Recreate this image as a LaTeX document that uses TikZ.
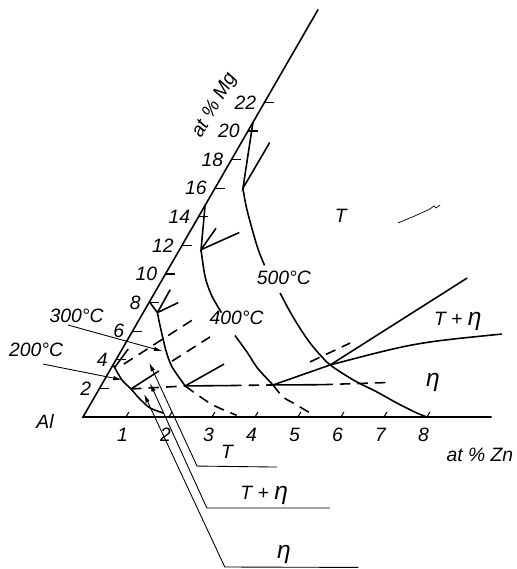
\documentclass[tikz,border=0pt]{standalone}
\usepackage{fontspec}
\setmainfont{Liberation Sans}
\usetikzlibrary{arrows.meta}
\newcommand{\etabig}{{\fontsize{14}{14}\selectfont η}}

\begin{document}
\begin{tikzpicture}[
	x={(0.86cm,0cm)}, y={(0.165cm,0.286cm)},
	curve/.style={ line width=0.9pt },
	dashcurve/.style={ line width=0.9pt, dash pattern=on 6pt off 4pt },
	axtick/.style={ line width=0.6pt },
	leader/.style={ line width=0.5pt, -{Latex[length=5pt,width=2.5pt]} },
	lbl/.style={ font=\itshape\fontsize{11}{13}\selectfont, inner sep=1pt }
]
\useasboundingbox (-1.66cm,-3.04cm) rectangle (8.66cm,8.34cm);

\draw[curve] (9.5,0) -- (0,0) -- (0,28.5);
\foreach \z in {1,...,8} {
  \draw[axtick] (\z,0) -- (\z,0.35);
  \node at (\z,0) (zn\z) [lbl,anchor=north,xshift=-2pt,yshift=-5pt] {\z};
}
\foreach \m in {2,4,...,22} {
  \draw[axtick] (0,\m) -- (0.23,\m);
  \node at (0,\m) (mg\m) [lbl,anchor=east,xshift=-3.5pt] {\m};
}
\node at (-0.83,-0.28) (al) [lbl] {Al};
\node at (9.74,-2.66) (znlab) [lbl] {at \% Zn};
\node at (-1.12,21.8) (mglab) [lbl,rotate=60] {at \% Mg};

\coordinate (p200) at (0.74,1.96);
\coordinate (p300) at (1.96,2.17);
\coordinate (p400) at (3.99,2.24);
\coordinate (j500) at (5.05,3.64);

\draw[curve] (0,20.6) -- (0.65,16.0) -- (0.66,19.2);
\draw[curve] plot[smooth] coordinates {(0.65,16.0) (1.03,14.5) (1.77,11.9) (2.19,10.6)};
\draw[curve] plot[smooth] coordinates {(2.92,8.67) (3.41,7.34) (3.85,6.22) (4.29,5.17) (4.75,4.2) (5.05,3.64) (5.43,3.08) (5.9,2.45) (6.5,1.75) (7.11,0.98) (7.71,0.28) (8,0)};
\node at (2.81,9.7) (t500) [lbl] {500°C};

\draw[curve] (0,14.8) -- (0.5,11.7) -- (0.56,13.2);
\draw[curve] (0.5,11.7) -- (1.16,12.9);
\draw[curve] plot[smooth] coordinates {(0.5,11.7) (0.96,9.8) (1.36,8.5) (1.82,7.3)};
\draw[curve] plot[smooth] coordinates {(2.44,5.7) (2.96,4.5) (3.41,3.4) (3.99,2.24)};
\node at (2.25,6.9) (t400) [lbl] {400°C};

\draw[curve] (0,8.05) -- (0.33,7.3) -- (0.32,8.9);
\draw[curve] (0.33,7.3) -- (0.68,8.0);
\draw[curve] plot[smooth] coordinates {(0.33,7.3) (0.51,6.6) (0.83,5.4) (1.08,4.5) (1.4,3.5) (1.96,2.17)};
\node at (-1.51,7.1) (t300) [lbl] {300°C};

\draw[curve] (0.07,3.45) -- (0.14,4.75);
\draw[curve] plot[smooth] coordinates {(0.02,3.6) (0.41,2.59) (0.74,1.96) (1.08,1.26) (1.44,0.63) (1.81,0.28)};
\node at (-1.99,4.7) (t200) [lbl] {200°C};

\draw[curve] (p200) -- (1.15,3.22);
\draw[curve] (p300) -- (2.57,3.7);
\draw[curve] (p400) -- (j500);
\draw[curve] (j500) -- (7.07,9.72);
\draw[curve] (j500) .. controls (6.73,5.2) .. (8.63,5.8);

\draw[dashcurve] (p200) -- (p300);
\draw[curve] (p300) -- (3.02,2.2);
\draw[dashcurve] (3.02,2.2) -- (p400);
\draw[curve] (p400) -- (5.13,2.26);
\draw[dashcurve] (5.13,2.26) -- (6.72,2.42);

\draw[dashcurve] plot[smooth] coordinates {(1.96,2.17) (2.28,1.68) (2.86,0.84) (3.55,0.12)};
\draw[dashcurve] plot[smooth] coordinates {(3.99,2.24) (4.38,1.4) (4.7,0.98) (5.35,0.12)};
\draw[dashcurve] (0.24,3.7) -- (1.28,6.9);
\draw[dashcurve] (1.32,3.9) -- (1.88,5.6);
\draw[dashcurve] (4.54,3.85) -- (5.22,5.17);

\node at (3.29,14.1) (phT) [lbl] {T};
\node at (7.43,6.7) (phTe) [lbl] {T + \etabig};
\node at (7.68,2.4) (phE) [lbl] {\etabig};
\draw[line width=0.4pt] (4.72,13.57) -- (5.02,14.06) -- (5.28,14.55) -- (5.33,14.76) -- (5.40,14.62) -- (5.46,14.83);

\coordinate (s300) at (-1.58,6.43);
\coordinate (e300) at (0.97,4.6);
\draw[leader] (s300) -- (e300);
\coordinate (s200) at (-1.64,3.7);
\coordinate (e200) at (0.41,2.6);
\draw[leader] (s200) -- (e200);

\coordinate (aT) at (0.81,3.8);
\coordinate (kT) at (3.31,-3.43);
\coordinate (uT) at (5.18,-3.5);
\draw[leader] (uT) -- (kT) -- (aT);
\coordinate (aTe) at (1.10,2.38);
\coordinate (kTe) at (4.10,-6.36);
\coordinate (uTe) at (6.97,-6.36);
\draw[leader] (uTe) -- (kTe) -- (aTe);
\coordinate (aE) at (1.11,1.61);
\coordinate (kE) at (5.31,-10.49);
\coordinate (uE) at (8.42,-10.52);
\draw[leader] (uE) -- (kE) -- (aE);
\node at (3.82,-2.45) (legT) [lbl] {T};
\node at (5.26,-5.45) (legTe) [lbl] {T + \etabig};
\node at (6.51,-9.58) (legE) [lbl] {\etabig};

\end{tikzpicture}
\end{document}
